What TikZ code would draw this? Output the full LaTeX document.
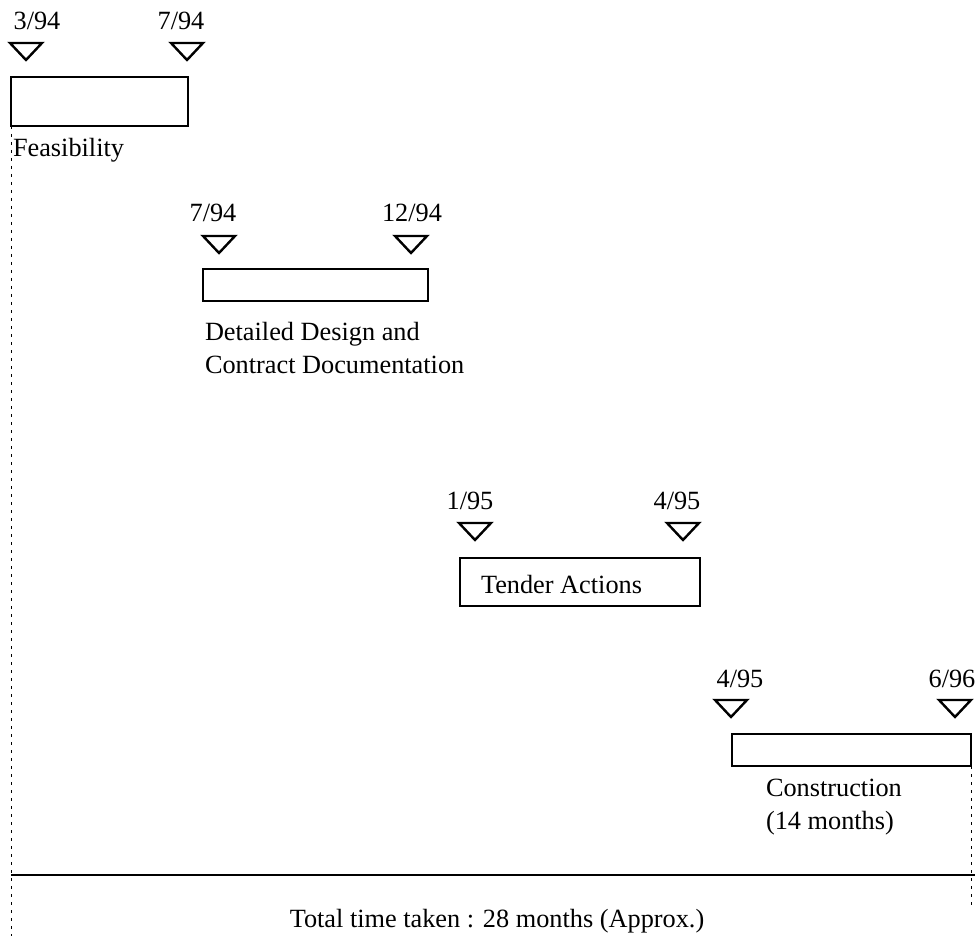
\documentclass[tikz,border=0pt]{standalone}
\usepackage{fontspec}
\setmainfont{Liberation Serif}
\begin{document}
\begin{tikzpicture}[x=1pt,y=-1pt,
  every node/.style={font=\fontsize{26.3}{32.5}\selectfont, inner sep=0pt, outer sep=0pt},
  bar/.style={draw, line width=2.4pt, anchor=north west},
  date/.style={anchor=base},
  caption/.style={anchor=base west, align=left},
  guide/.style={line width=1pt, dash pattern=on 3pt off 5pt},
  marker/.pic={\draw[line width=2.4pt, line join=miter] (-16,0) -- (16,0) -- (0,17) -- cycle;}]
\useasboundingbox (0,0) rectangle (975,936);

% phase bars
\node[bar, minimum width=177, minimum height=49] (feas) at (11,77) {};
\node[bar, minimum width=225, minimum height=32] (design) at (203,269) {};
\node[bar, minimum width=240, minimum height=48] (tender) at (460,558) {};
\node[bar, minimum width=239, minimum height=32] (constr) at (732,734) {};

% milestone markers
\pic at (26,43) {marker};
\pic at (187,43) {marker};
\pic at (219,236) {marker};
\pic at (411,236) {marker};
\pic at (475,523) {marker};
\pic at (683,523) {marker};
\pic at (731,700) {marker};
\pic at (955,700) {marker};

% milestone dates
\node[date] (d1) at (37,30) {3/94};
\node[date] (d2) at (181,30) {7/94};
\node[date] (d3) at (213,222) {7/94};
\node[date] (d4) at (412,222) {12/94};
\node[date] (d5) at (470,509) {1/95};
\node[date] (d6) at (677,509) {4/95};
\node[date] (d7) at (740,687) {4/95};
\node[date] (d8) at (952,687) {6/96};

% phase captions (base anchor sits on the last line)
\node[caption] (cf) at (13,157) {Feasibility};
\node[caption] (cd) at (205,373) {Detailed Design and\\Contract Documentation};
\node[caption] (ct) at (481,593) {Tender Actions};
\node[caption] (cc) at (766,829) {Construction\\(14 months)};

% overall span
\coordinate (tl) at (11,875);
\coordinate (tr) at (975,875);
\coordinate (lb) at (11,936);
\coordinate (rb) at (971,906);
\draw[guide] (feas.south west) -- (lb);
\draw[guide] (constr.south east) -- (rb);
\draw[line width=2.4pt] (tl) -- (tr);
\node[date] (total) at (497,927) {Total time taken : 28 months (Approx.)};
\end{tikzpicture}
\end{document}
